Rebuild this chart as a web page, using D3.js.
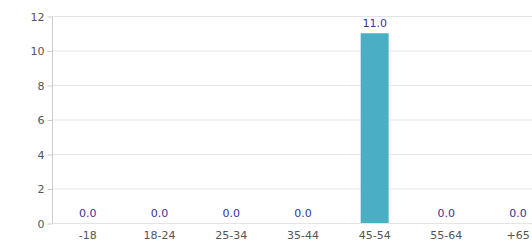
<!DOCTYPE html>
<html>
<head>
<meta charset="utf-8">
<script src="https://cdn.jsdelivr.net/npm/d3@7"></script>
<style>
  body { margin: 0; background: #fff; }
  svg { display: block; }
  svg text { font-family: "DejaVu Sans", sans-serif; }
  .grid line { stroke: #e5e5e5; }
  .axis text { fill: #555; font-size: 11px; }
  .axis path, .axis line { stroke: #ccc; }
  .val { fill: #34349a; font-size: 11px; text-anchor: middle; }
</style>
</head>
<body>
<div class="chart"></div>
<script>
const ageGroups = ["-18", "18-24", "25-34", "35-44", "45-54", "55-64", "+65"];
const counts = [0, 0, 0, 0, 11, 0, 0];
const yTicks = [0, 2, 4, 6, 8, 10, 12];

const w = 532;
const h = 245;
const padLeft = 52;
const padTop = 16;
const baseY = 223;

const svg = d3.select(".chart")
              .append("svg")
              .attr("width", w)
              .attr("height", h);

const xScale = d3.scaleBand()
                 .domain(ageGroups)
                 .range([padLeft, padLeft + 7 * 71.7])
                 .paddingInner(0.61)
                 .paddingOuter(0.305);

const yScale = d3.scaleLinear()
                 .domain([0, 12])
                 .range([baseY, padTop]);

// horizontal grid
svg.append("g")
   .attr("class", "grid")
   .selectAll("line")
   .data(yTicks)
   .enter()
   .append("line")
   .attr("x1", padLeft)
   .attr("x2", w)
   .attr("y1", d => yScale(d) + 0.5)
   .attr("y2", d => yScale(d) + 0.5);

const yAxis = d3.axisLeft(yScale).tickValues(yTicks).tickSize(5).tickPadding(3);
svg.append("g")
   .attr("class", "axis")
   .attr("transform", "translate(" + (padLeft + 0.5) + ",0.5)")
   .call(yAxis)
   .call(g => g.select(".domain").attr("d", "M0," + padTop + "V" + baseY));

const xAxis = d3.axisBottom(xScale).tickSize(0).tickPadding(8);
svg.append("g")
   .attr("class", "axis")
   .attr("transform", "translate(0," + baseY + ")")
   .call(xAxis)
   .call(g => g.select(".domain").remove());

svg.selectAll("rect.bar")
   .data(counts)
   .enter()
   .append("rect")
   .attr("class", "bar")
   .attr("x", (d, i) => xScale(ageGroups[i]))
   .attr("width", xScale.bandwidth())
   .attr("y", d => yScale(d))
   .attr("height", d => baseY - yScale(d))
   .attr("fill", "#4aaec4");

svg.selectAll("text.val")
   .data(counts)
   .enter()
   .append("text")
   .attr("class", "val")
   .attr("x", (d, i) => xScale(ageGroups[i]) + xScale.bandwidth() / 2)
   .attr("y", d => yScale(d) - 6)
   .text(d => d.toFixed(1));
</script>
</body>
</html>
